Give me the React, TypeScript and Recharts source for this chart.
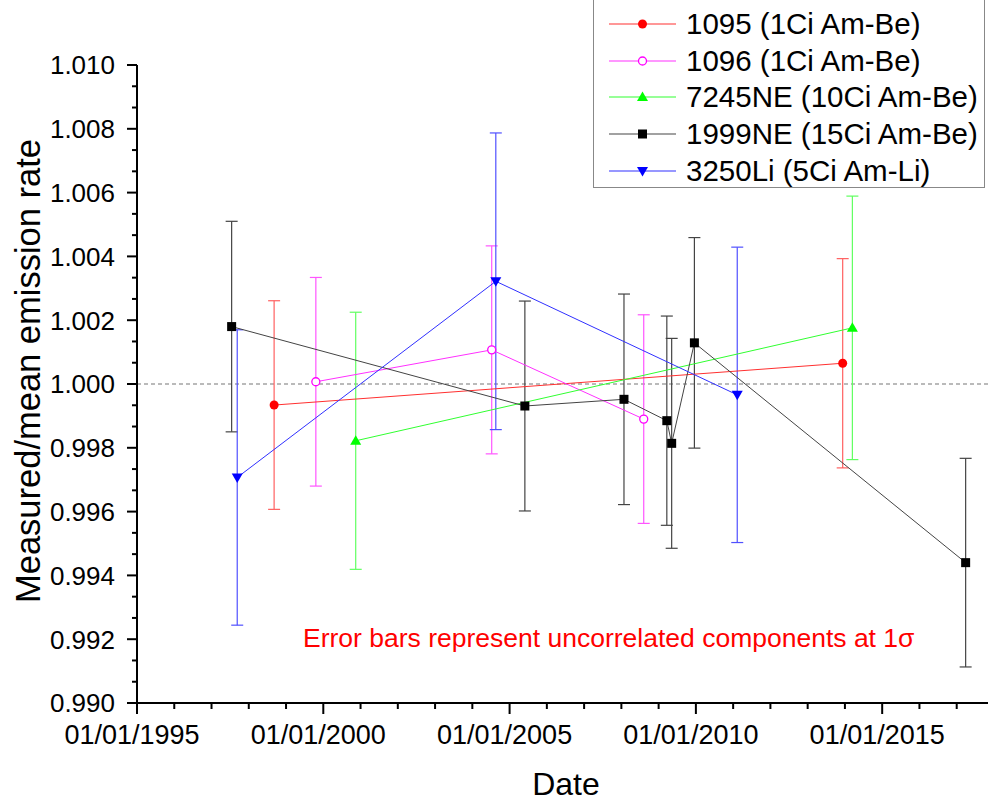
import React from 'react'
import { ScatterChart, Scatter, XAxis, YAxis, ErrorBar, ReferenceLine } from 'recharts'

const FONT = 'Arial, "Liberation Sans", Helvetica, sans-serif'

// decimal years, measured/mean ratio, 1 sigma uncorrelated error
const dates1095 = [1998.68, 2013.94]
const values1095 = [0.99934, 1.00065]
const errors1095 = [0.00327, 0.00328]

const dates1096 = [1999.8, 2004.52, 2008.6]
const values1096 = [1.00007, 1.00107, 0.9989]
const errors1096 = [0.00327, 0.00326, 0.00327]

const dates7245 = [2000.87, 2014.2]
const values7245 = [0.99822, 1.00176]
const errors7245 = [0.00403, 0.00413]

const dates1999 = [1997.54, 2005.41, 2008.07, 2009.22, 2009.35, 2009.96, 2017.24]
const values1999 = [1.0018, 0.99931, 0.99952, 0.99885, 0.99814, 1.00129, 0.9944]
const errors1999 = [0.0033, 0.00329, 0.0033, 0.00328, 0.00329, 0.0033, 0.00327]

const dates3250 = [1997.69, 2004.63, 2011.11]
const values3250 = [0.99707, 1.00322, 0.99966]
const errors3250 = [0.00463, 0.00465, 0.00463]

const yMajor = [0.99, 0.992, 0.994, 0.996, 0.998, 1.0, 1.002, 1.004, 1.006, 1.008, 1.01]
const xMajor = [1995, 2000, 2005, 2010, 2015]

const toRows = (d: number[], v: number[], e: number[]) => d.map((x, i) => ({ x, y: v[i], err: e[i] }))

const series = [
  { name: '1095 (1Ci Am-Be)', kind: 'circle', color: '#ff0000', line: '#ff3030', err: '#ff6060', data: toRows(dates1095, values1095, errors1095) },
  { name: '1096 (1Ci Am-Be)', kind: 'open', color: '#ff00ff', line: '#ff30ff', err: '#ff55ff', data: toRows(dates1096, values1096, errors1096) },
  { name: '7245NE (10Ci Am-Be)', kind: 'up', color: '#00ff00', line: '#30ff30', err: '#60ff60', data: toRows(dates7245, values7245, errors7245) },
  { name: '1999NE (15Ci Am-Be)', kind: 'square', color: '#000000', line: '#444444', err: '#444444', data: toRows(dates1999, values1999, errors1999) },
  { name: '3250Li (5Ci Am-Li)', kind: 'down', color: '#0000ff', line: '#3030ff', err: '#5050ff', data: toRows(dates3250, values3250, errors3250) },
]

// ticks: 2 minor between y majors, yearly minors on x
const yTicks: number[] = []
yMajor.forEach((m, i) => {
  yTicks.push(m)
  if (i < yMajor.length - 1) {
    yTicks.push(m + 0.002 / 3, m + 0.004 / 3)
  }
})
const xTicks: number[] = []
for (let yr = 1995; yr <= 2017; yr++) xTicks.push(yr)

const Marker = ({ kind, cx, cy, color }: any) => {
  if (cx == null || cy == null) return null
  switch (kind) {
    case 'circle':
      return <circle cx={cx} cy={cy} r={4.5} fill={color} />
    case 'open':
      return <circle cx={cx} cy={cy} r={4} fill="#fff" stroke={color} strokeWidth={1.3} />
    case 'up':
      return <polygon points={`${cx},${cy - 5.5} ${cx + 5.5},${cy + 4} ${cx - 5.5},${cy + 4}`} fill={color} />
    case 'down':
      return <polygon points={`${cx},${cy + 5.5} ${cx + 5.5},${cy - 4} ${cx - 5.5},${cy - 4}`} fill={color} />
    default:
      return <rect x={cx - 4.5} y={cy - 4.5} width={9} height={9} fill={color} />
  }
}

const YTick = ({ x, y, payload }: any) => {
  const major = yMajor.some((m) => Math.abs(m - payload.value) < 1e-7)
  return (
    <g>
      <line x1={x - (major ? 10 : 5)} x2={x} y1={y} y2={y} stroke="#000" strokeWidth={2} />
      {major && (
        <text x={x - 22} y={y} dy="0.36em" textAnchor="end" fontSize={26} fontFamily={FONT} fill="#000">
          {payload.value.toFixed(3)}
        </text>
      )}
    </g>
  )
}

const XTick = ({ x, y, payload }: any) => {
  const major = xMajor.includes(Math.round(payload.value))
  return (
    <g>
      <line x1={x} x2={x} y1={y} y2={y + (major ? 11 : 6)} stroke="#000" strokeWidth={2} />
      {major && (
        <text x={x - 5} y={y + 41} textAnchor="middle" fontSize={27} fontFamily={FONT} fill="#000">
          {`01/01/${Math.round(payload.value)}`}
        </text>
      )}
    </g>
  )
}

const LegendBox = () => (
  <div style={{ position: 'absolute', left: 593, top: -1, width: 392, height: 189, border: '1px solid #888', background: '#fff', boxSizing: 'border-box' }}>
    {series.map((s, i) => (
      <div key={s.name} style={{ position: 'absolute', left: 0, top: 24 + i * 36.7 - 18, height: 36, width: 390 }}>
        <svg width={90} height={36} style={{ position: 'absolute', left: 0, top: 0 }}>
          <line x1={15} x2={82} y1={18} y2={18} stroke={s.line} strokeWidth={1.2} />
          <Marker kind={s.kind} cx={48.5} cy={18} color={s.color} />
        </svg>
        <span style={{ position: 'absolute', left: 92, top: 0, lineHeight: '36px', fontSize: 29.5, fontFamily: FONT, color: '#000', whiteSpace: 'nowrap' }}>
          {s.name}
        </span>
      </div>
    ))}
  </div>
)

export default function App() {
  return (
    <div style={{ position: 'absolute', left: 0, top: 0, width: 988, height: 803, background: '#fff', overflow: 'hidden' }}>
      <ScatterChart width={988} height={803} margin={{ top: 65, right: 0, bottom: 0, left: 0 }}>
        <XAxis
          type="number" dataKey="x" domain={[1995, 2017.84]} allowDataOverflow
          ticks={xTicks} interval={0} tick={<XTick />} tickSize={0} tickMargin={0} tickLine={false}
          axisLine={{ stroke: '#000', strokeWidth: 2 }} height={100}
        />
        <YAxis
          type="number" dataKey="y" domain={[0.99, 1.01]} allowDataOverflow
          ticks={yTicks} interval={0} tick={<YTick />} tickSize={0} tickMargin={0} tickLine={false}
          axisLine={{ stroke: '#000', strokeWidth: 2 }} width={137}
        />
        <ReferenceLine y={1} stroke="#777" strokeDasharray="4 3" strokeWidth={1.2} />
        {series.map((s) => (
          <Scatter
            key={s.name} name={s.name} data={s.data} isAnimationActive={false}
            line={{ stroke: s.line, strokeWidth: 1 }}
            shape={(p: any) => <Marker kind={s.kind} cx={p.cx} cy={p.cy} color={s.color} />}
          >
            <ErrorBar dataKey="err" direction="y" width={6} stroke={s.err} strokeWidth={1.2} isAnimationActive={false} />
          </Scatter>
        ))}
      </ScatterChart>
      <svg width={988} height={803} style={{ position: 'absolute', left: 0, top: 0, pointerEvents: 'none' }}>
        <text transform="translate(40,371) rotate(-90)" textAnchor="middle" fontSize={34.5} fontFamily={FONT} fill="#000">
          Measured/mean emission rate
        </text>
        <text x={566} y={795} textAnchor="middle" fontSize={32} fontFamily={FONT} fill="#000">
          Date
        </text>
        <text x={303} y={647} fontSize={26.5} fontFamily={FONT} fill="#ff0000">
          Error bars represent uncorrelated components at 1σ
        </text>
      </svg>
      <LegendBox />
    </div>
  )
}
